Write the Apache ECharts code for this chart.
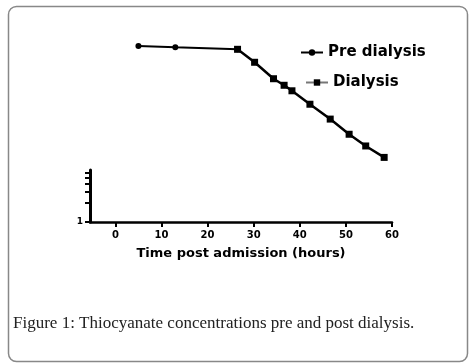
<!DOCTYPE html>
<html>
<head>
<meta charset="utf-8">
<script src="https://cdn.jsdelivr.net/npm/echarts@6/dist/echarts.min.js"></script>
<style>
  html, body { margin: 0; padding: 0; background: #fff; }
  #chart { width: 471px; height: 364px; }
</style>
</head>
<body>
<div id="chart"></div>
<script>
// values (log scale, hours)
var preHours = [5, 13, 26.5];
var preValues = [622, 593, 551];
var dialHours = [26.5, 30.2, 34.3, 36.6, 38.3, 42.2, 46.6, 50.7, 54.3, 58.3];
var dialValues = [551, 343, 188, 148, 121, 74, 43, 24.7, 16.1, 10.6];
var xTicks = [0, 10, 20, 30, 40, 50, 60];
var yTicks = [1, 2, 3, 4, 5, 6];
var yLabels = [1];

function pairs(xs, ys) {
    return xs.map(function (x, i) { return [x, ys[i]]; });
}

var chart = echarts.init(document.getElementById('chart'));
var boldFont = 'DejaVu Sans';

var option = {
    animation: false,
    backgroundColor: '#fff',
    grid: [
        { left: 90, right: 79, top: 33, bottom: 142 },
        { left: 90, right: 79, top: 170, bottom: 142 }
    ],
    xAxis: [
        { gridIndex: 0, type: 'value', min: -5.5, max: 60, show: false },
        {
            gridIndex: 1, type: 'value', min: -5.5, max: 60,
            name: 'Time post admission (hours)',
            nameLocation: 'middle', nameGap: 25,
            nameTextStyle: { fontFamily: boldFont, fontWeight: 'bold', fontSize: 13, color: '#000' },
            axisLine: { onZero: false, lineStyle: { color: '#000', width: 2.5 } },
            axisTick: { customValues: xTicks, length: 5, lineStyle: { color: '#000', width: 2 } },
            axisLabel: { customValues: xTicks, fontFamily: boldFont, fontWeight: 'bold', fontSize: 10, color: '#000', margin: 8 },
            splitLine: { show: false }
        }
    ],
    yAxis: [
        { gridIndex: 0, type: 'log', min: 1, max: 1000, show: false },
        {
            gridIndex: 1, type: 'log', min: 1, max: 6.69,
            axisLine: { show: true, onZero: false, lineStyle: { color: '#000', width: 3 } },
            axisTick: { customValues: yTicks, length: 5, lineStyle: { color: '#000', width: 2 } },
            axisLabel: { customValues: yLabels, fontFamily: boldFont, fontWeight: 'bold', fontSize: 9, color: '#000', margin: 7 },
            splitLine: { show: false }
        }
    ],
    legend: [
        {
            left: 295, top: 40, orient: 'vertical',
            data: ['Pre dialysis'], itemWidth: 22, itemHeight: 8,
            textStyle: { fontFamily: boldFont, fontWeight: 'bold', fontSize: 15, color: '#000' }
        },
        {
            left: 300, top: 70, orient: 'vertical',
            data: [{ name: 'Dialysis', lineStyle: { color: '#777' } }], itemWidth: 22, itemHeight: 8,
            textStyle: { fontFamily: boldFont, fontWeight: 'bold', fontSize: 15, color: '#000' }
        }
    ],
    series: [
        {
            name: 'Pre dialysis', type: 'line',
            xAxisIndex: 0, yAxisIndex: 0,
            data: pairs(preHours, preValues),
            symbol: 'circle', symbolSize: 6,
            itemStyle: { color: '#000' },
            lineStyle: { color: '#000', width: 2 }
        },
        {
            name: 'Dialysis', type: 'line',
            xAxisIndex: 0, yAxisIndex: 0,
            data: pairs(dialHours, dialValues),
            symbol: 'rect', symbolSize: 7,
            itemStyle: { color: '#000' },
            lineStyle: { color: '#000', width: 2.5 }
        }
    ],
    graphic: [
        {
            type: 'rect', left: 6, top: 4,
            shape: { width: 459, height: 355, r: 8 },
            style: { fill: 'none', stroke: '#888', lineWidth: 1.5 },
            z: -1
        },
        {
            type: 'text', left: 13, top: 315,
            style: {
                text: 'Figure 1: Thiocyanate concentrations pre and post dialysis.',
                font: '17px "Liberation Serif"', fill: '#222'
            }
        }
    ]
};

chart.setOption(option);
</script>
</body>
</html>
